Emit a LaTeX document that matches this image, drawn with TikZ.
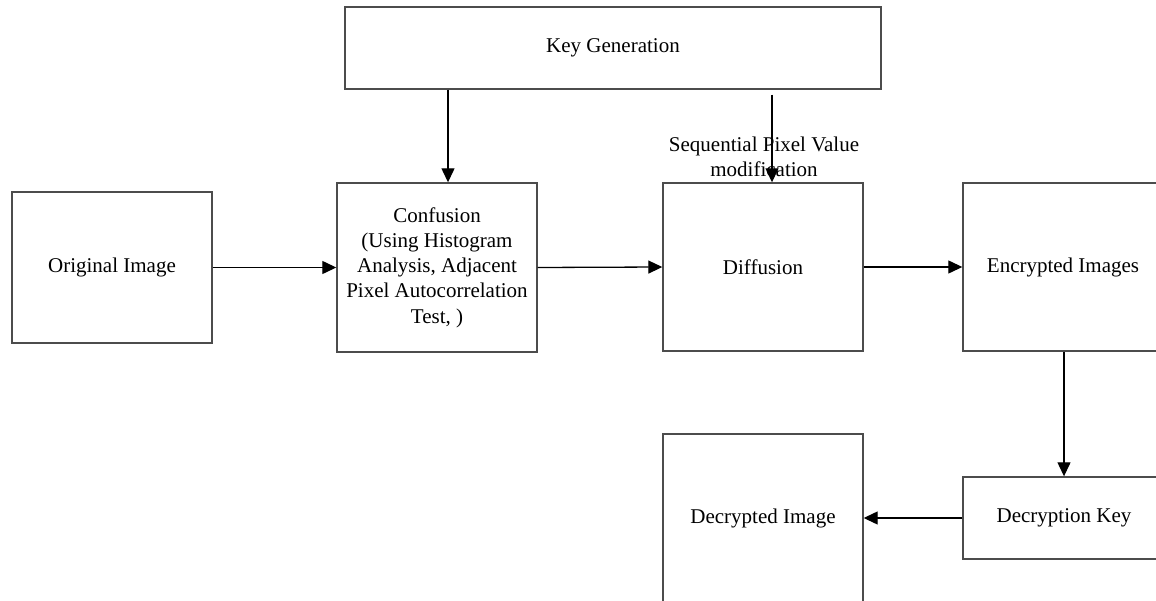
\documentclass[tikz,border=0pt]{standalone}
\usepackage{fontspec}
\setmainfont{Liberation Serif}
\usetikzlibrary{arrows.meta}
\begin{document}
\begin{tikzpicture}[x=1pt,y=-1pt,
  every node/.style={font=\fontsize{21}{25.3}\selectfont, text=black},
  blockbox/.style={draw=black!70, line width=1.4pt, rectangle, align=center, inner sep=0pt},
  arr/.style={draw=black, line width=1.3pt, -{Triangle[length=14pt,width=13pt]}}]
  \useasboundingbox (0,0) rectangle (1156,601);
  \clip (0,0) rectangle (1156,601);
  \fill[white] (0,0) rectangle (1156,601);

  % blocks
  \node[blockbox, minimum width=536pt, minimum height=82pt] (kg) at (613,48) {Key Generation};
  \node[blockbox, minimum width=200pt, minimum height=151pt] (orig) at (112,267.5) {Original Image};
  \node[blockbox, minimum width=200pt, minimum height=169pt] (conf) at (437,267.5)
    {\raisebox{-2pt}{\parbox{198pt}{\centering Confusion\\ (Using Histogram\\ Analysis, Adjacent\\ Pixel Autocorrelation\\ Test, )}}};
  \node[blockbox, minimum width=200pt, minimum height=168pt] (diff) at (763,267) {Diffusion};
  \node[blockbox, minimum width=200pt, minimum height=168pt] (enc) at (1063,267) {Encrypted Images};
  \node[blockbox, minimum width=202pt, minimum height=82pt] (dk) at (1064,518) {Decryption Key};
  \node[blockbox, minimum width=200pt, minimum height=168pt] (dec) at (763,518) {Decrypted Image};

  % label over the diffusion key input
  \node[align=center] (seq) at (764,157) {Sequential Pixel Value\\ modification};

  % connectors
  \draw[arr] ([xshift=11pt]conf.north |- kg.south) -- ([xshift=11pt]conf.north);
  \draw[arr] ([xshift=9pt,yshift=-5pt]diff.north |- kg.south) -- ([xshift=9pt]diff.north);
  \draw[arr] (orig.east) -- (conf.west);
  \draw[arr] (conf.east) -- (diff.west);
  \draw[arr] (diff.east) -- (enc.west);
  \draw[arr] (enc.south -| dk.north) -- (dk.north);
  \draw[arr] (dk.west) -- (dec.east);
\end{tikzpicture}
\end{document}
